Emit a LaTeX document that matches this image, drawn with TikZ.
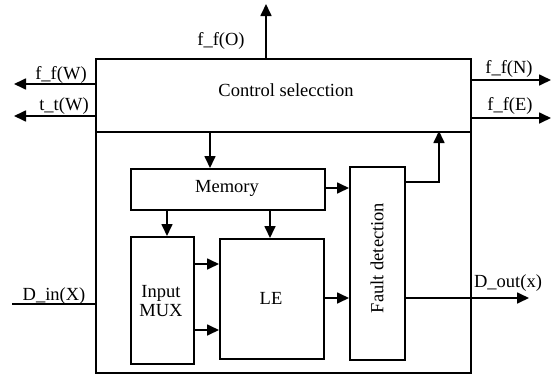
\documentclass[tikz,border=0pt]{standalone}
\usepackage{fontspec}
\setmainfont{Liberation Serif}
\usetikzlibrary{arrows.meta}
\begin{document}
\begin{tikzpicture}[x=1pt,y=-1pt,line width=1.7pt,
  blk/.style={draw,line width=1.7pt,inner sep=0pt,anchor=north west},
  arr/.style={-{Triangle[length=12pt,width=11pt]},line width=1.7pt},
  lbl/.style={font=\fontsize{18.5}{21}\selectfont,inner sep=0pt}]
\useasboundingbox (0,0) rectangle (552,375);
% outer and control
\node[blk,minimum width=375pt,minimum height=314pt] (outer) at (95,58) {};
\node[blk,minimum width=375pt,minimum height=73pt] (ctrl) at (95,58) {};
\node[lbl] at (286,90) {Control selecction};
% inner blocks
\node[blk,minimum width=194pt,minimum height=41pt] (mem) at (130,168) {};
\node[lbl] at (227,188) {Memory};
\node[blk,minimum width=63pt,minimum height=127pt] (mux) at (130,236) {};
\node[lbl,align=center] at (161,301) {Input\\[-2pt]MUX};
\node[blk,minimum width=104pt,minimum height=120pt] (le) at (219,238) {};
\node[lbl] at (271,298) {LE};
\node[blk,minimum width=55pt,minimum height=193pt] (fd) at (349,166) {};
\node[lbl,rotate=90] at (377,258) {Fault detection};
% coordinates
\coordinate (oT) at (266,4);
\coordinate (wA) at (14,84);
\coordinate (wB) at (14,116);
\coordinate (nA) at (551,80);
\coordinate (eA) at (551,118);
\coordinate (din) at (12,304);
\coordinate (dout) at (529,298);
% external arrows
\draw[arr] (266,58) -- (oT);
\draw[arr] (95,84) -- (wA);
\draw[arr] (95,116) -- (wB);
\draw[arr] (470,80) -- (nA);
\draw[arr] (470,118) -- (eA);
\draw (din) -- (95,304);
\draw[arr] (404,298) -- (dout);
% internal arrows
\draw[arr] (210,131) -- (210,168);
\draw[arr] (324,188) -- (349,188);
\draw[arr] (404,182) -- (439,182) -- (439,131);
\draw[arr] (167,209) -- (167,236);
\draw[arr] (270,209) -- (270,238);
\draw[arr] (193,264) -- (219,264);
\draw[arr] (193,330) -- (219,330);
\draw[arr] (323,298) -- (349,298);
% labels
\node[lbl,anchor=base] at (221,45) {f\_f(O)};
\node[lbl,anchor=base] at (61,79) {f\_f(W)};
\node[lbl,anchor=base] at (64,110) {t\_t(W)};
\node[lbl,anchor=base] at (509,73) {f\_f(N)};
\node[lbl,anchor=base] at (510,110) {f\_f(E)};
\node[lbl,anchor=base] at (54,300) {D\_in(X)};
\node[lbl,anchor=base] at (508,287) {D\_out(x)};
\end{tikzpicture}
\end{document}
